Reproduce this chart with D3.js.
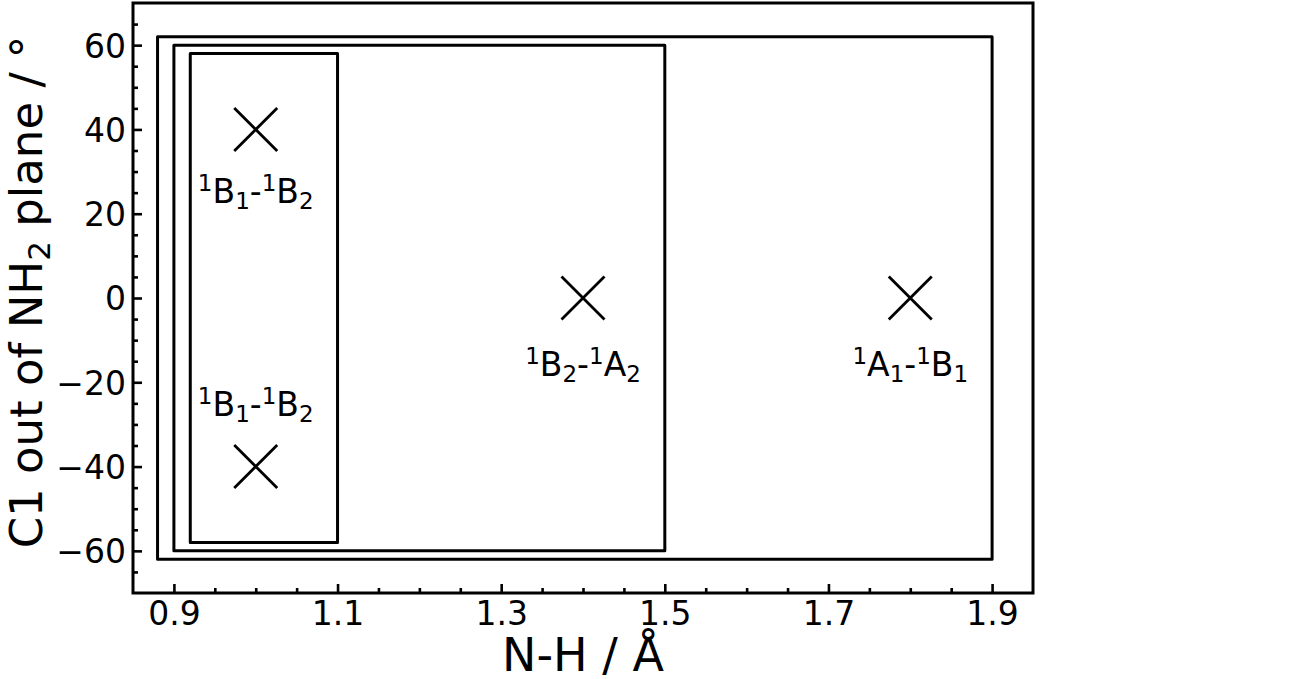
<!DOCTYPE html>
<html><head><meta charset="utf-8">
<script src="https://cdn.jsdelivr.net/npm/d3@7"></script>
<style>body{margin:0;background:#fff}svg{display:block}text{font-family:"DejaVu Sans",sans-serif;fill:#000}</style>
</head><body><svg id="c" width="1299" height="679"></svg>
<script>
// Data
const xDomain = [0.85, 1.95];
const yDomain = [-70, 70];
const xTicks = [0.9, 1.1, 1.3, 1.5, 1.7, 1.9];
const yTicks = [-60, -40, -20, 0, 20, 40, 60];
const boxX0 = [0.88, 0.90, 0.92];
const boxX1 = [1.90, 1.50, 1.10];
const boxY0 = [-62, -60, -58];
const boxY1 = [62, 60, 58];
const pointX = [1.0, 1.0, 1.4, 1.8];
const pointY = [40, -40, 0, 0];
const labelA = ["B", "B", "B", "A"]; const subA = ["1", "1", "2", "1"];
const labelB = ["B", "B", "A", "B"]; const subB = ["2", "2", "2", "1"];
const labelY = [22.5, -28, -18.5, -18.5];

const svg = d3.select("#c");
const L = 133, R = 1033, T = 3, B = 593;
const x = d3.scaleLinear().domain(xDomain).range([L, R]);
const y = d3.scaleLinear().domain(yDomain).range([B, T]);

// boxes
const g = svg.append("g");
boxX0.forEach((d, i) => {
  g.append("rect").attr("x", x(boxX0[i])).attr("y", y(boxY1[i]))
   .attr("width", x(boxX1[i]) - x(boxX0[i])).attr("height", y(boxY0[i]) - y(boxY1[i]))
   .attr("fill", "none").attr("stroke", "#000").attr("stroke-width", 3).attr("stroke-linejoin", "round");
});

// markers + annotations
const s = 21.5;
pointX.forEach((d, i) => {
  const cx = x(pointX[i]), cy = y(pointY[i]);
  g.append("path").attr("d", `M${cx-s},${cy-s}L${cx+s},${cy+s}M${cx-s},${cy+s}L${cx+s},${cy-s}`)
   .attr("stroke", "#000").attr("stroke-width", 2.8).attr("fill", "none");
  const t = g.append("text").attr("x", cx).attr("y", y(labelY[i])).attr("text-anchor", "middle").attr("font-size", 33);
  t.append("tspan").attr("font-size", 23).attr("dy", -12).text("1");
  t.append("tspan").attr("dy", 12).text(labelA[i]);
  t.append("tspan").attr("font-size", 23).attr("dy", 6).text(subA[i]);
  t.append("tspan").attr("dy", -6).text("-");
  t.append("tspan").attr("font-size", 23).attr("dy", -12).text("1");
  t.append("tspan").attr("dy", 12).text(labelB[i]);
  t.append("tspan").attr("font-size", 23).attr("dy", 6).text(subB[i]);
});

// axes
const xMinor = d3.range(0.9, 1.9001, 0.05).filter(v => !xTicks.some(t => Math.abs(t - v) < 1e-6));
const yMinor = d3.range(-65, 65.001, 5).filter(v => !yTicks.some(t => Math.abs(t - v) < 1e-6));
const xa = svg.append("g").attr("transform", `translate(0,${B})`)
  .call(d3.axisBottom(x).tickValues(xTicks).tickSizeInner(-9).tickSizeOuter(0).tickPadding(9).tickFormat(d3.format(".1f")));
const xm = svg.append("g").attr("transform", `translate(0,${B})`)
  .call(d3.axisBottom(x).tickValues(xMinor).tickSize(-5).tickFormat(""));
const ya = svg.append("g").attr("transform", `translate(${L},0)`)
  .call(d3.axisLeft(y).tickValues(yTicks).tickSizeInner(-9).tickSizeOuter(0).tickPadding(7).tickFormat(d => d < 0 ? "\u2212" + Math.abs(d) : d));
const ym = svg.append("g").attr("transform", `translate(${L},0)`)
  .call(d3.axisLeft(y).tickValues(yMinor).tickSize(-5).tickFormat(""));
[xa, xm, ya, ym].forEach(a => { a.select(".domain").remove(); a.selectAll("line").attr("stroke-width", 2.6); });
[xa, ya].forEach(a => a.selectAll("text").attr("font-size", 33).attr("font-family", "DejaVu Sans").attr("fill", "#000"));
xa.selectAll("text").attr("dy", "0.71em");
ya.selectAll("text").attr("dy", "0.36em");
xa.selectAll("text").attr("x", 0);

// frame
svg.append("rect").attr("x", L).attr("y", T).attr("width", R - L).attr("height", B - T)
  .attr("fill", "none").attr("stroke", "#000").attr("stroke-width", 3);

// axis labels
svg.append("text").attr("x", (L + R) / 2).attr("y", 671).attr("text-anchor", "middle").attr("font-size", 46).text("N-H / Å");
const yl = svg.append("text").attr("transform", `translate(42,292) rotate(-90)`).attr("text-anchor", "middle").attr("font-size", 45);
yl.append("tspan").text("C1 out of NH");
yl.append("tspan").attr("font-size", 31).attr("dy", 8).text("2");
yl.append("tspan").attr("dy", -8).text(" plane / °");
</script></body></html>
